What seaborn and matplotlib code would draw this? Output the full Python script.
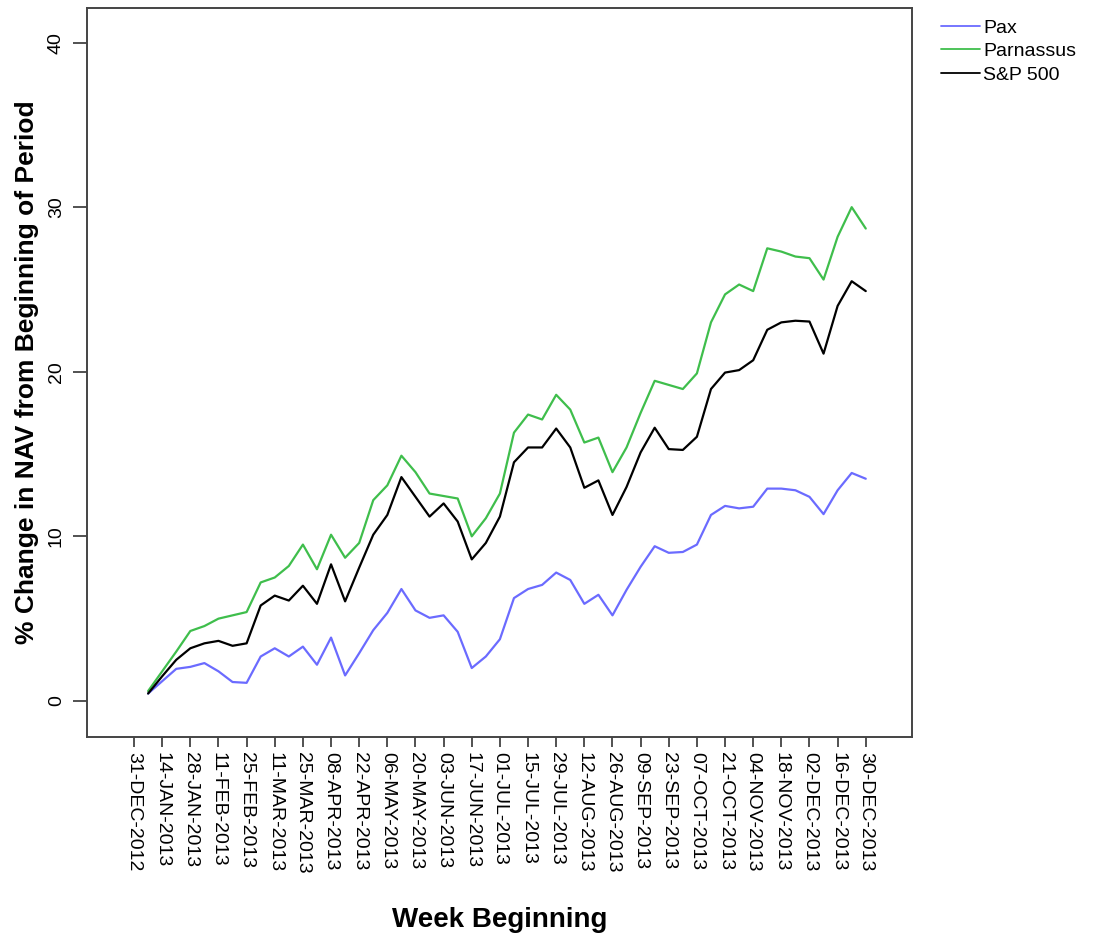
import numpy as np
import pandas as pd
import matplotlib
matplotlib.use("Agg")
import matplotlib.pyplot as plt
import seaborn as sns

# weekly % change in NAV, weeks starting 07-JAN-2013
pax = [0.45, 1.2, 1.95, 2.07, 2.3, 1.8, 1.15, 1.1, 2.7, 3.2,
       2.7, 3.3, 2.2, 3.85, 1.55, 2.9, 4.3, 5.35, 6.8, 5.5,
       5.05, 5.2, 4.2, 2.0, 2.7, 3.75, 6.25, 6.8, 7.05, 7.8,
       7.35, 5.9, 6.45, 5.2, 6.75, 8.15, 9.4, 9.0, 9.05, 9.5,
       11.3, 11.85, 11.7, 11.8, 12.9, 12.9, 12.8, 12.4, 11.35, 12.8,
       13.85, 13.5]
parnassus = [0.6, 1.8, 3.0, 4.25, 4.55, 5.0, 5.2, 5.4, 7.2, 7.5,
             8.2, 9.5, 8.0, 10.1, 8.7, 9.6, 12.2, 13.1, 14.9, 13.9,
             12.6, 12.45, 12.3, 10.0, 11.1, 12.6, 16.3, 17.4, 17.1, 18.6,
             17.7, 15.7, 16.0, 13.9, 15.4, 17.5, 19.45, 19.2, 18.95, 19.9,
             23.0, 24.7, 25.3, 24.9, 27.5, 27.3, 27.0, 26.9, 25.6, 28.2,
             30.0, 28.7]
sp500 = [0.45, 1.5, 2.5, 3.2, 3.5, 3.65, 3.35, 3.5, 5.8, 6.4,
         6.1, 7.0, 5.9, 8.3, 6.05, 8.1, 10.1, 11.3, 13.6, 12.4,
         11.2, 12.0, 10.9, 8.6, 9.6, 11.2, 14.5, 15.4, 15.4, 16.55,
         15.4, 12.95, 13.4, 11.3, 13.0, 15.1, 16.6, 15.3, 15.25, 16.05,
         18.95, 19.95, 20.1, 20.7, 22.55, 23.0, 23.1, 23.05, 21.1, 24.0,
         25.5, 24.9]

weeks = pd.date_range("2013-01-07", periods=len(pax), freq="7D")
tick_dates = pd.date_range("2012-12-31", "2013-12-30", freq="14D")
tick_labels = [d.strftime("%d-%b-%Y").upper() for d in tick_dates]

series = ["Pax", "Parnassus", "S&P 500"]
colors = {"Pax": "#6b6bff", "Parnassus": "#3fbe4c", "S&P 500": "#000000"}

df = pd.concat([
    pd.DataFrame({"week": weeks, "value": pax, "fund": "Pax"}),
    pd.DataFrame({"week": weeks, "value": parnassus, "fund": "Parnassus"}),
    pd.DataFrame({"week": weeks, "value": sp500, "fund": "S&P 500"}),
])

sns.set_style("white")
plt.rcParams['font.family'] = ['Liberation Sans', 'DejaVu Sans']
plt.rcParams['text.color'] = 'black'
plt.rcParams['axes.labelcolor'] = 'black'
plt.rcParams['xtick.color'] = 'black'
plt.rcParams['ytick.color'] = 'black'

fig = plt.figure(figsize=(10.93, 9.41), dpi=100)
ax = fig.add_axes([0.0796, 0.2168, 0.7548, 0.7747])

sns.lineplot(data=df, x="week", y="value", hue="fund", hue_order=series,
             palette=colors, linewidth=1.6, ax=ax, legend=False)

start = pd.Timestamp("2012-12-31")
ax.set_xlim(start - pd.Timedelta(days=23.4), start + pd.Timedelta(days=387))
ax.set_ylim(-2.19, 42.1)

ax.set_xticks(tick_dates)
ax.set_xticklabels(tick_labels, rotation=-90, fontsize=14, va="top", ha="center")
ax.set_yticks([0, 10, 20, 30, 40])
ax.set_yticklabels(["0", "10", "20", "30", "40"], rotation=90, fontsize=14, va="center")

ax.tick_params(axis="x", direction="out", length=7, width=1.2, color="#333333", pad=4, bottom=True)
ax.tick_params(axis="y", direction="out", length=10, width=1.2, color="#333333", pad=6, left=True)

for s in ax.spines.values():
    s.set_color("#444444")
    s.set_linewidth(1.4)

ax.set_xlabel("Week Beginning", fontsize=20, fontweight="bold", labelpad=24)
ax.set_ylabel("% Change in NAV from Beginning of Period", fontsize=19, fontweight="bold", labelpad=6)

handles = [plt.Line2D([], [], color=colors[s], linewidth=1.3) for s in series]
fig.legend(handles, series, loc="upper left", bbox_to_anchor=(0.854, 0.988),
           frameon=False, fontsize=14, handlelength=2.0, handletextpad=0.15,
           labelspacing=0.3, borderaxespad=0)

fig.savefig("out.png", dpi=100)
